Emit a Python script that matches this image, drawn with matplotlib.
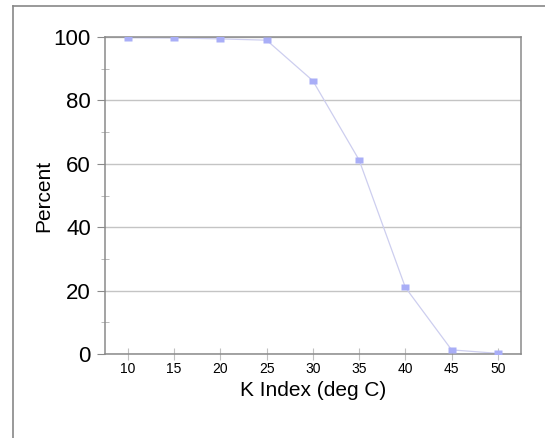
import matplotlib
matplotlib.use("Agg")
import matplotlib.pyplot as plt
from matplotlib.lines import Line2D

k_index = [10, 15, 20, 25, 30, 35, 40, 45, 50]
percent = [99.8, 99.7, 99.4, 99.0, 86.2, 61.2, 21.0, 1.3, 0.2]
y_ticks = [0, 20, 40, 60, 80, 100]

plt.rcParams['font.family'] = ['Liberation Sans', 'DejaVu Sans']

fig = plt.figure(figsize=(5.45, 4.38), dpi=100)
ax = fig.add_axes([104.7 / 545, 84 / 438, (521 - 104.7) / 545, (354 - 37) / 438])

# outer frame, runs off the right and bottom edges
fig.add_artist(Line2D([13 / 545, 1.0], [1 - 6 / 438, 1 - 6 / 438], transform=fig.transFigure,
                      color='#888888', lw=1.2))
fig.add_artist(Line2D([13 / 545, 13 / 545], [0.0, 1 - 6 / 438], transform=fig.transFigure,
                      color='#888888', lw=1.2))

# flat rectangular marker, wider than tall
rect = [(-1, -0.72), (1, -0.72), (1, 0.72), (-1, 0.72), (-1, -0.72)]
ax.plot(k_index, percent, color='#cdceef', lw=0.9, zorder=2)
ax.plot(k_index, percent, ls='none', marker=rect, ms=6.2, color='#a9aef7', mec='none',
        zorder=3)

ax.set_xlim(7.5, 52.5)
ax.set_ylim(0, 100)
ax.set_xticks(k_index)
ax.set_yticks(y_ticks)
ax.set_yticks(range(10, 100, 20), minor=True)
ax.yaxis.grid(True, color='#c4c4c4', lw=1)
ax.set_axisbelow(True)

for side in ['top', 'right', 'left', 'bottom']:
    ax.spines[side].set_color('#8a8a8a')
    ax.spines[side].set_linewidth(1.1)

ax.tick_params(axis='y', which='major', direction='out', length=6, color='#8a8a8a',
               labelsize=16, pad=4)
ax.tick_params(axis='y', which='minor', direction='inout', length=6, color='#b0b0b0')
ax.tick_params(axis='x', direction='inout', length=8, color='#c0c0c0', labelsize=10, pad=2)

ax.set_xlabel('K Index (deg C)', fontsize=15, labelpad=3)
ax.set_ylabel('Percent', fontsize=15, labelpad=0)

fig.savefig('out.png', dpi=100)
